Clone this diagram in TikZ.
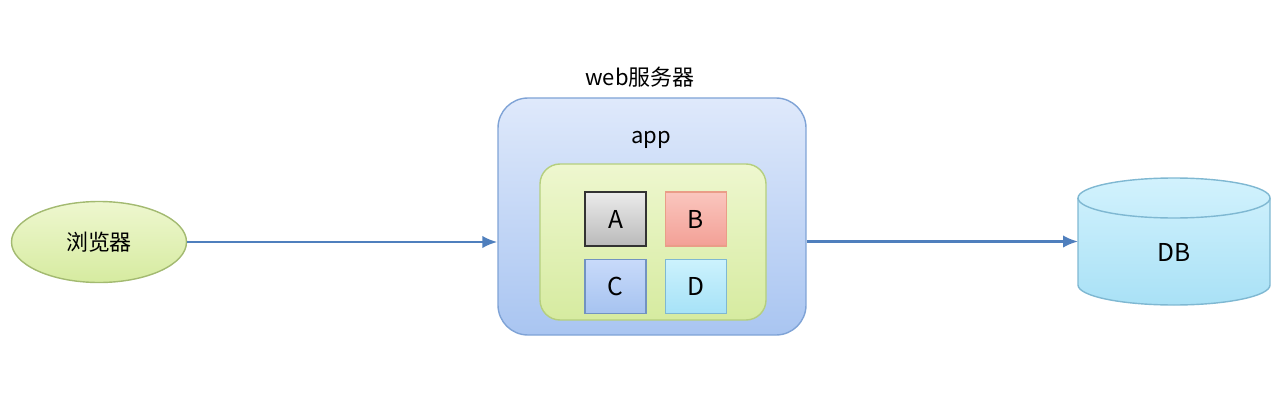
\documentclass[tikz,border=0pt]{standalone}
\usepackage{fontspec}
\setmainfont{Noto Sans CJK SC}
\usepackage{tikz}
\usetikzlibrary{shapes.geometric, arrows.meta, positioning, calc}
\definecolor{linkblue}{HTML}{4F7FBD}
\definecolor{srvedge}{HTML}{7FA3D6}
\definecolor{srvtop}{HTML}{DFE9FB}
\definecolor{srvbot}{HTML}{A9C5F1}
\definecolor{appedge}{HTML}{B5CF7E}
\definecolor{apptop}{HTML}{EEF7CF}
\definecolor{appbot}{HTML}{D6EBA0}
\definecolor{dbedge}{HTML}{7FB8D2}
\definecolor{dbtop}{HTML}{D2F2FD}
\definecolor{dbbot}{HTML}{A9E1F6}

\begin{document}
\begin{tikzpicture}[
    font=\fontsize{12.5}{15}\selectfont,
    client/.style={ellipse, draw=appedge!90!black, top color=apptop, bottom color=appbot, thick, minimum width=3.5cm, minimum height=1.62cm},
    server/.style={rectangle, rounded corners=0.6cm, draw=srvedge, top color=srvtop, bottom color=srvbot, thick, minimum width=6.16cm, minimum height=4.74cm},
    appbox/.style={rectangle, rounded corners=0.4cm, draw=appedge, top color=apptop, bottom color=appbot, thick, minimum width=4.52cm, minimum height=3.12cm},
    module/.style={rectangle, thick, minimum width=1.22cm, minimum height=1.08cm, font=\fontsize{14}{16}\selectfont},
    arrow/.style={-{Latex[length=3mm, width=2.5mm]}, draw=linkblue, line width=1.4pt}
]
\useasboundingbox (0,0) rectangle (25.7,-8.2);

\node[client] (browser) at (1.98,-4.84) {浏览器};

\node[server] (web) at (13.04,-4.33) {};
\node (weblabel) at (12.8,-1.54) {web服务器};
\node (applabel) at (13.02,-2.8) {app};
\node[appbox] (app) at (13.06,-4.84) {};

\node[module, draw=black!80, top color=black!8, bottom color=black!27] (moda) at (12.31,-4.38) {A};
\node[module, draw=red!40!brown!55, top color={rgb,255:red,250;green,198;blue,190}, bottom color={rgb,255:red,243;green,160;blue,150}, right=0.36cm of moda] (modb) {B};
\node[module, draw=srvedge!90!black, top color={rgb,255:red,200;green,218;blue,250}, bottom color={rgb,255:red,166;green,195;blue,240}, below=0.24cm of moda] (modc) {C};
\node[module, draw=dbedge, top color={rgb,255:red,204;green,242;blue,253}, bottom color={rgb,255:red,166;green,226;blue,247}, below=0.24cm of modb] (modd) {D};

% database drum
\coordinate (db) at (23.48,-4.83);
\draw[dbedge, thick, top color=dbtop, bottom color=dbbot]
    ($(db)+(-1.92,0.87)$) -- ($(db)+(-1.92,-0.87)$)
    arc[start angle=180, end angle=360, x radius=1.92cm, y radius=0.4cm]
    -- ($(db)+(1.92,0.87)$)
    arc[start angle=0, end angle=180, x radius=1.92cm, y radius=0.4cm] -- cycle;
\draw[dbedge, thick] ($(db)+(-1.92,0.87)$)
    arc[start angle=180, end angle=360, x radius=1.92cm, y radius=0.4cm];
\node[font=\fontsize{14}{16}\selectfont] (dblabel) at (23.48,-5.04) {DB};
\coordinate (dbin) at ($(db)+(-1.92,0)$);

\draw[arrow] (browser.east) -- (browser.east -| web.west);
\draw[arrow] (dbin -| web.east) -- (dbin);

\end{tikzpicture}
\end{document}
